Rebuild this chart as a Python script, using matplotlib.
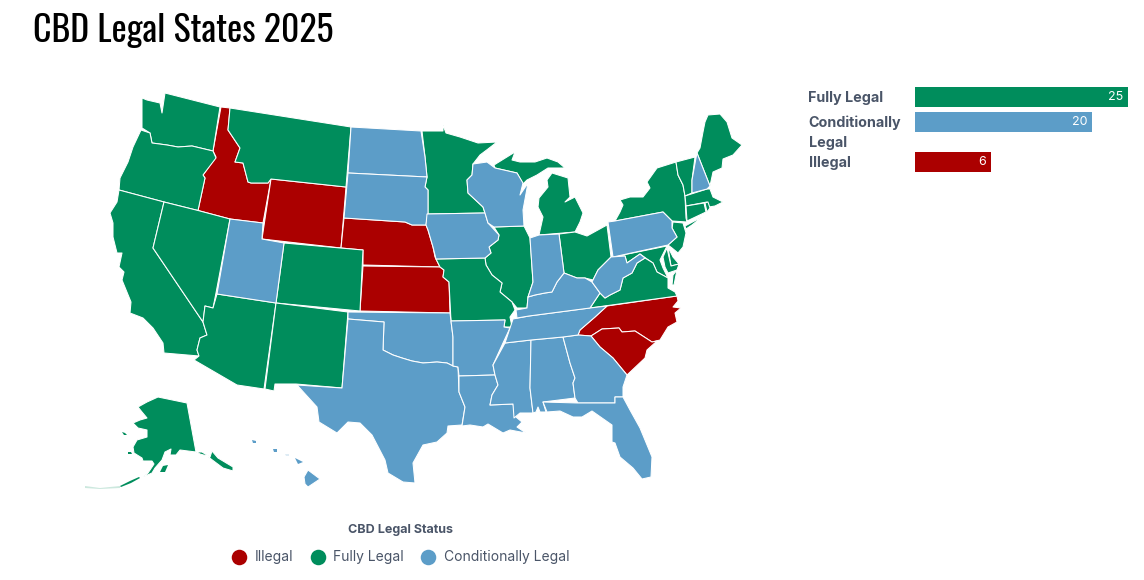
import matplotlib
matplotlib.use('Agg')
import matplotlib.pyplot as plt
import numpy as np

# chart values
bar_labels = ['Fully Legal', 'Conditionally\nLegal', 'Illegal']
bar_values = [25, 20, 6]
legend_labels = ['Illegal', 'Fully Legal', 'Conditionally Legal']

illegal = ['ID', 'WY', 'NE', 'KS', 'NC', 'SC']
conditional = ['ND', 'SD', 'IA', 'WI', 'UT', 'OK', 'TX', 'AR', 'LA', 'MS', 'AL', 'GA', 'FL',
               'TN', 'KY', 'IN', 'PA', 'WV', 'NH', 'HI', 'HI2', 'HI3', 'HI4', 'HI5']
fully_legal = ['WA', 'OR', 'CA', 'NV', 'AZ', 'CO', 'NM', 'MT', 'MN', 'IL', 'MO', 'MI', 'MI2', 'OH',
               'NY', 'NY2', 'VT', 'ME', 'MA', 'CT', 'RI', 'NJ', 'DE', 'MD', 'MD2', 'VA', 'VA2',
               'AK', 'AK2', 'AK3', 'AK4', 'AK5', 'AK6', 'AK7']
small_parts = ['AK3', 'AK4', 'AK5', 'AK6', 'AK7', 'HI2', 'HI3', 'HI4', 'HI5']
faint_parts = ['AK7', 'HI5']

# state outlines
WA = [(142,98),(147,100),(160,103),(162,113),(165,93),(220,107),(213,151),(192,146),(178,147),(167,145),(152,143),(150,133),(142,128)]
OR = [(141,130),(150,133),(152,143),(167,145),(178,147),(192,146),(213,151),(216,158),(203,175),(205,178),(198,210.5),(164,202),(119,190),(120,178),(128,162),(133,147)]
CA = [(119,190),(164,202),(153,248),(203,322),(207,335),(200,338),(197,350),(199,356),(164,353),(163,343),(153,328),(143,318),(130,313),(131,302),(122,280),(124,272),(119,267),(122,253),(117,253),(113,237),(113,223),(110,213),(117,202)]
NV = [(164,202),(198,210.5),(230,219),(216,293),(213,308),(205,306),(203,322),(153,248)]
ID = [(221,107),(230,108),(228,130),(240,148),(235,162),(243,163),(248,182),(251,183),(268,183),(271,179),(263,223),(230,219),(198,210.5),(205,178),(203,175),(216,157),(213,151)]
MT = [(230,108),(351,127),(346,187),(271,179),(268,183),(251,183),(248,182),(243,163),(235,162),(240,148),(228,130)]
WY = [(271,179),(346,187),(341,248),(262,239)]
UT = [(230,219),(263,223),(262,239),(284,243),(276,303),(217,294)]
CO = [(284,243),(363,250),(360,311),(276,303)]
AZ = [(217,294),(276,303),(264,389),(237,385),(194,360),(199,356),(197,350),(200,338),(207,335),(203,322),(205,306),(213,308)]
NM = [(276,303),(348,312),(342,388),(296,384),(275,384),(274,391),(265,389)]
ND = [(351,127),(421,131),(425,157),(427,177),(348,173)]
SD = [(348,173),(427,177),(425,187),(428,190),(428,213),(426,225),(422,225),(412,225),(405,222),(344,218)]
NE = [(344,218),(405,222),(412,225),(422,225),(426,225),(428,230),(433,247),(435,257),(440,267),(363,265),(363,250),(341,248)]
KS = [(363,266),(440,267),(444,270),(443,277),(449,282),(450,313),(360,311)]
OK = [(348,312),(450,313),(451,321),(453,337),(453,366),(447,363),(437,362),(423,363),(412,361),(402,358),(393,355),(383,350),(384,322),(348,319)]
TX = [(348,319),(384,322),(383,350),(393,355),(402,358),(412,361),(423,363),(437,362),(447,363),(453,366),(458,367),(459,392),(465,407),(462,425),(448,426),(447,433),(437,442),(423,445),(413,463),(415,483),(403,482),(388,473),(385,460),(372,435),(360,423),(348,422),(337,433),(319,422),(317,407),(297,385),(342,388)]
AR = [(451,321),(505,320),(504,327),(510,328),(503,343),(493,365),(495,375),(459,376),(458,367),(453,366),(453,337)]
MO = [(436,259),(485,258),(486,265),(492,275),(502,283),(500,292),(512,302),(515,310),(510,317),(512,327),(504,327),(505,320),(451,321),(449,282),(443,277),(444,270),(440,267)]
IA = [(427,214),(485,213),(488,223),(499,235),(498,240),(489,247),(491,253),(485,258),(436,259),(433,247),(428,230),(426,225)]
MN = [(422,131),(443,131),(443,125),(446,133),(460,137),(478,143),(497,142),(488,149),(480,155),(473,164),(472,175),(467,180),(468,193),(483,207),(485,213),(428,214),(428,190),(425,187),(427,177),(425,157)]
WI = [(473,164),(487,162),(495,168),(517,173),(523,183),(520,195),(528,183),(523,210),(524,226),(494,227),(488,223),(485,213),(483,207),(468,193),(467,180),(472,175)]
MI = [(494,165),(515,152),(512,160),(520,162),(535,162),(547,158),(558,162),(565,168),(548,168),(537,175),(527,180),(523,184),(517,173),(495,168)]
MI2 = [(552,173),(568,178),(570,197),(565,202),(575,197),(583,213),(580,222),(575,232),(539,235),(543,217),(538,207),(539,198),(548,187),(547,180)]
IL = [(494,227),(524,226),(530,238),(533,282),(528,297),(527,308),(517,308),(512,302),(500,292),(502,283),(492,275),(486,265),(485,258),(491,253),(489,247),(498,240),(499,235)]
IN = [(530,238),(539,235),(559,234),(564,273),(557,282),(552,292),(545,293),(535,295),(528,297),(533,282)]
OH = [(559,234),(575,232),(587,236),(607,225),(611,257),(598,270),(593,280),(585,278),(577,278),(564,273)]
KY = [(564,273),(577,278),(585,278),(592,282),(600,293),(590,308),(529,316),(517,318),(516,310),(527,308),(528,297),(535,295),(545,293),(552,292),(557,282)]
WV = [(611,257),(625,256),(627,263),(640,254),(645,258),(637,263),(632,273),(623,278),(620,290),(610,295),(605,298),(600,293),(592,282),(598,270)]
TN = [(513,319),(529,316),(590,308),(607,306),(595,317),(580,330),(578,335),(563,337),(531,340),(505,343),(510,328)]
VA = [(590,308),(600,293),(605,298),(610,295),(620,290),(623,278),(632,273),(637,263),(645,258),(653,263),(657,272),(668,278),(668,288),(675,292),(677,296)]
VA2 = [(677,270),(674,285),(672,285),(673,275)]
NC = [(677,296),(678,301),(673,307),(681,308),(675,313),(677,322),(668,327),(660,340),(652,342),(635,331),(622,332),(619,328),(602,329),(591,336),(578,335),(580,330),(595,317),(607,306)]
SC = [(591,336),(602,329),(619,328),(622,332),(635,331),(652,342),(657,341),(647,350),(645,358),(627,375),(613,358),(600,347)]
GA = [(563,337),(578,335),(591,336),(600,347),(613,358),(627,375),(623,387),(623,397),(615,397),(615,403),(578,403),(575,398),(573,383),(575,378),(570,363)]
AL = [(531,340),(563,337),(570,363),(575,378),(573,383),(575,398),(543,402),(546,412),(540,412),(538,407),(536,412),(533,413),(530,388)]
MS = [(505,343),(531,340),(530,388),(533,413),(520,413),(514,418),(513,404),(490,405),(492,395),(498,385),(495,375),(493,365)]
LA = [(459,376),(495,375),(498,385),(492,395),(490,405),(513,404),(516,417),(522,422),(517,427),(526,433),(510,430),(503,433),(488,424),(483,427),(470,425),(462,426),(465,407),(459,392)]
FL = [(543,402),(578,403),(615,403),(615,397),(623,397),(630,410),(640,428),(652,457),(651,477),(642,479),(633,468),(620,457),(615,443),(612,442),(612,425),(592,411),(582,417),(573,417),(560,411),(547,412)]
PA = [(608,222),(615,221),(663,212),(672,221),(672,228),(677,237),(668,245),(613,257)]
NY = [(615,221),(620,212),(623,205),(620,200),(630,197),(643,197),(650,188),(647,182),(657,168),(676,162),(678,175),(683,185),(685,196),(686,218),(687,222),(672,221),(663,212)]
NY2 = [(685,226),(702,217),(692,225),(686,229)]
VT = [(676,162),(695,157),(692,180),(692,193),(685,196),(683,185),(678,175)]
NH = [(697,153),(710,186),(707,189),(692,193),(692,180),(696,158)]
ME = [(697,153),(700,148),(703,132),(705,122),(708,115),(720,114),(727,122),(732,138),(742,145),(733,155),(723,159),(722,168),(713,172),(710,186)]
MA = [(685,196),(707,189),(710,189),(713,197),(723,202),(715,206),(709,207),(707,202),(686,206)]
CT = [(686,206),(704,203),(706,212),(687,221)]
RI = [(705,203),(708,202),(710,208),(707,212)]
NJ = [(673,222),(683,223),(686,233),(683,247),(678,253),(672,248),(668,245),(677,237),(672,228)]
DE = [(668,247),(673,257),(679,264),(671,266)]
MD = [(613,257),(625,256),(627,263),(640,254),(647,259),(653,263),(657,272),(668,278),(663,268),(660,260),(667,246)]
MD2 = [(667,248),(671,266),(679,264),(677,270),(668,273),(665,267),(663,257)]
AK = [(147,402),(158,397),(187,403),(196,452),(180,450),(176,455),(170,455),(171,449),(165,452),(162,460),(155,468),(152,473),(143,477),(148,473),(154,464),(152,461),(143,461),(142,458),(134,453),(133,447),(137,440),(147,437),(147,430),(138,428),(133,423),(140,420),(147,418),(142,412),(138,407)]
AK2 = [(196,452),(202,452),(210,457),(212,451),(218,458),(233,467),(233,471),(223,468),(215,462),(207,456),(200,454)]
AK3 = [(122,432),(125,433),(127,435),(124,435)]
AK4 = [(128,452),(131,452),(132,454),(128,454)]
AK5 = [(120,486),(130,481),(139,477),(140,478),(131,483),(121,487)]
AK6 = [(163,466),(168,465),(165,472),(160,472)]
AK7 = [(85,486),(100,488),(120,486),(120,488),(100,489),(85,488)]
HI = [(304,477),(308,470),(320,479),(308,487),(305,484)]
HI2 = [(295,458),(303,462),(298,464)]
HI3 = [(273,449),(277,449),(277,452),(274,452)]
HI4 = [(252,440),(256,441),(256,443),(253,443)]
HI5 = [(285,454),(289,454),(289,456),(286,456)]

shapes = dict(WA=WA, OR=OR, CA=CA, NV=NV, ID=ID, MT=MT, WY=WY, UT=UT, CO=CO, AZ=AZ, NM=NM, ND=ND, SD=SD,
              NE=NE, KS=KS, OK=OK, TX=TX, AR=AR, MO=MO, IA=IA, MN=MN, WI=WI, MI=MI, MI2=MI2, IL=IL, IN=IN,
              OH=OH, KY=KY, WV=WV, TN=TN, VA=VA, VA2=VA2, NC=NC, SC=SC, GA=GA, AL=AL, MS=MS, LA=LA, FL=FL,
              PA=PA, NY=NY, NY2=NY2, VT=VT, NH=NH, ME=ME, MA=MA, CT=CT, RI=RI, NJ=NJ, DE=DE, MD=MD, MD2=MD2,
              AK=AK, AK2=AK2, AK3=AK3, AK4=AK4, AK5=AK5, AK6=AK6, AK7=AK7,
              HI=HI, HI2=HI2, HI3=HI3, HI4=HI4, HI5=HI5)

RED = '#ab0000'
GREEN = '#008d5c'
BLUE = '#5c9dc8'
GREY = '#4a5568'

plt.rcParams['font.family'] = ['Inter', 'DejaVu Sans']
fig = plt.figure(figsize=(11.44, 5.8), dpi=100)

# whole figure in pixels for the map, legend and title
ax = fig.add_axes([0, 0, 1, 1])
ax.set_xlim(0, 1144)
ax.set_ylim(580, 0)
ax.axis('off')

for names, color in [(illegal, RED), (fully_legal, GREEN), (conditional, BLUE)]:
    for name in names:
        pts = np.array(shapes[name])
        lw = 0 if name in small_parts else 0.75
        alpha = 0.2 if name in faint_parts else 1
        ax.fill(pts[:, 0], pts[:, 1], facecolor=color, edgecolor='white', linewidth=lw, joinstyle='round', alpha=alpha)

ax.text(33, 31, 'CBD Legal States 2025', fontsize=25.8, va='center', color='black',
        family=['Oswald', 'Barlow Condensed', 'Roboto'])

# legend below the map
ax.text(400.5, 530.5, 'CBD Legal Status', fontsize=9, fontweight='bold', color=GREY, ha='center', va='center')
for x, tx, label, color in zip([239, 318, 428], [255, 333, 444], legend_labels, [RED, GREEN, BLUE]):
    ax.scatter([x], [557], s=125, color=color, linewidths=0)
    ax.text(tx, 557.5, label, fontsize=10, color=GREY, va='center')

# bar chart, the bars in the picture are not to a linear scale
scale_in = [0, 6, 20, 25]
scale_out = [0, 76, 177, 213]
bar_y = [97, 122, 162]
ax2 = fig.add_axes([915 / 1144, 0, 213 / 1144, 1])
ax2.patch.set_alpha(0)
ax2.set_xscale('function', functions=(lambda v: np.interp(v, scale_in, scale_out),
                                      lambda v: np.interp(v, scale_out, scale_in)))
ax2.set_xlim(0, 25)
ax2.set_ylim(580, 0)
ax2.axis('off')
ax2.barh(bar_y, bar_values, height=20, color=[GREEN, BLUE, RED])
for y, value in zip(bar_y, bar_values):
    ax2.annotate(str(value), (value, y), xytext=(-3.5, 0), textcoords='offset points', color='white',
                 fontsize=9, ha='right', va='center')

for y, label in zip(bar_y, bar_labels):
    ax.text(808.5, y - 6, label, fontsize=10.3, fontweight='bold', color=GREY, va='top', linespacing=1.5)

fig.savefig('out.png', dpi=100)
